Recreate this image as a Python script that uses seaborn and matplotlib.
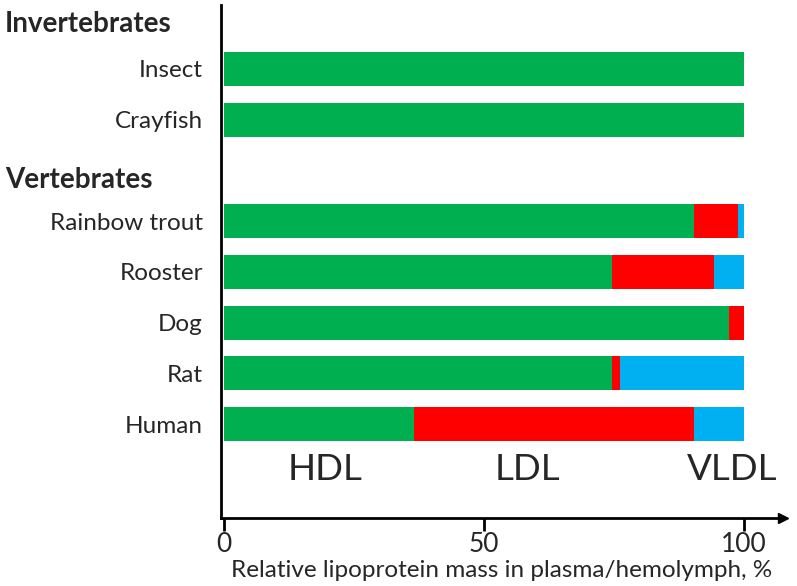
#!/usr/bin/env python3

import numpy as np
import pandas as pd
import matplotlib.pyplot as plt
import matplotlib.transforms as mtransforms
import seaborn as sns

# data (relative lipoprotein mass, %)
species = ["Insect", "Crayfish", "", "Rainbow trout", "Rooster", "Dog", "Rat", "Human"]
hdl = [100, 100, 0, 90.5, 74.7, 97.1, 74.7, 36.5]
ldl = [0, 0, 0, 8.3, 19.5, 2.9, 1.4, 54.0]
vldl = [0, 0, 0, 1.2, 5.8, 0, 23.9, 9.5]

groups = ["Invertebrates", "Vertebrates"]
group_pos = [-0.88, 2.18]

fractions = ["HDL", "LDL", "VLDL"]
fraction_x = [19.5, 58.4, 97.7]

colors = {"HDL": "#00B050", "LDL": "#FF0000", "VLDL": "#00B0F0"}


def main():
    sns.set_theme(style="white")
    plt.rcParams["font.family"] = ["Lato", "DejaVu Sans"]

    df = pd.DataFrame({"species": species, "HDL": hdl, "LDL": ldl, "VLDL": vldl})
    # cumulative sums so the layers stack
    df["cum_vldl"] = df["HDL"] + df["LDL"] + df["VLDL"]
    df["cum_ldl"] = df["HDL"] + df["LDL"]
    df["cum_hdl"] = df["HDL"]

    fig = plt.figure(figsize=(7.97, 5.86), dpi=100)
    ax = fig.add_axes([0.2773, 0.116, 0.705, 0.8755])

    for col, frac in [("cum_vldl", "VLDL"), ("cum_ldl", "LDL"), ("cum_hdl", "HDL")]:
        sns.barplot(data=df, x=col, y="species", order=species, orient="h",
                    color=colors[frac], saturation=1, width=0.67,
                    linewidth=0, ax=ax)

    ax.set_xlim(-0.5, 107.5)
    ax.set_ylim(8.85, -1.26)

    sns.despine(ax=ax)
    for s in ["left", "bottom"]:
        ax.spines[s].set_linewidth(2)
        ax.spines[s].set_color("black")

    # arrow head on the x axis
    ax.plot(1, 0, marker=">", color="black", markersize=7,
            transform=ax.transAxes, clip_on=False)

    ax.set_xticks([0, 50, 100])
    ax.tick_params(axis="x", direction="out", length=9, width=2, color="black",
                   labelsize=19, pad=1, bottom=True)
    ax.tick_params(axis="y", length=0, labelsize=17.5, pad=13)
    ax.set_ylabel("")
    ax.set_xlabel("Relative lipoprotein mass in plasma/hemolymph, %",
                  fontsize=17.5, labelpad=2)

    trans = mtransforms.blended_transform_factory(fig.transFigure, ax.transData)
    for g, y in zip(groups, group_pos):
        ax.text(0.006, y, g, transform=trans, fontsize=20, fontweight="bold",
                ha="left", va="center")

    for f, x in zip(fractions, fraction_x):
        ax.text(x, 7.9, f, fontsize=26.5, ha="center", va="center")

    fig.savefig("out.png", dpi=100)
    plt.close("all")


if __name__ == "__main__":
    main()
